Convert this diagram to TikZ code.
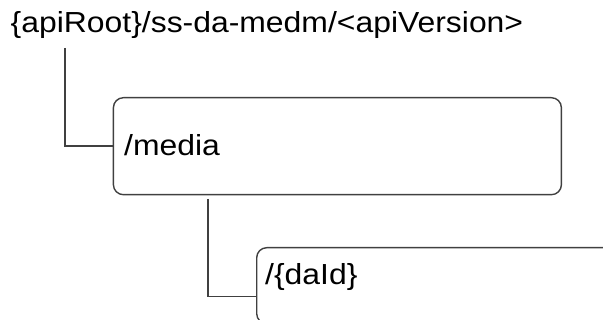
\documentclass[tikz,border=0pt]{standalone}
\usepackage{fontspec}
\setmainfont[FakeStretch=1.1]{Liberation Sans}
\begin{document}
\begin{tikzpicture}[x=1pt,y=-1pt,
  box/.style={draw=black!75, line width=1.4pt, rounded corners=10pt, inner sep=0pt, anchor=north west},
  lbl/.style={anchor=base west, inner sep=0pt, font=\fontsize{29}{34}\selectfont},
  conn/.style={draw=black!75, line width=1.4pt}]
\clip (0,0) rectangle (603,320);
\node[lbl] (root) at (10.5,33) {\{apiRoot\}/ss-da-medm/<apiVersion>};
\node[box, minimum width=448pt, minimum height=97pt] (box1) at (112.7,97) {};
\node[lbl] (t1) at (124,156) {/media};
\node[box, minimum width=360pt, minimum height=76pt] (box2) at (256,247) {};
\node[lbl] (t2) at (265,285) {/\{daId\}};
\coordinate (c1) at (65,48);
\coordinate (c2) at (208,199);
\draw[conn] (c1) |- (box1.west);
\draw[conn] (c2) |- ([yshift=-11pt]box2.west);
\end{tikzpicture}
\end{document}
